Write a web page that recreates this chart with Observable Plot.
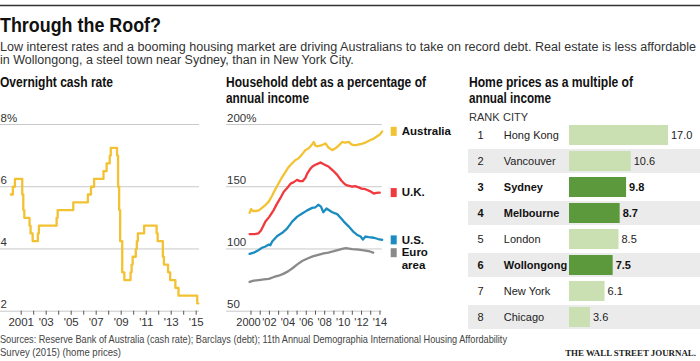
<!DOCTYPE html>
<html><head><meta charset="utf-8">
<script src="https://cdn.jsdelivr.net/npm/d3@7"></script>
<script src="https://cdn.jsdelivr.net/npm/@observablehq/plot@0.6"></script>
<style>
body{margin:0;background:#fff;}
#root{position:relative;width:700px;height:361px;overflow:hidden;}
#root > svg, #root > figure{position:absolute;margin:0;}
</style></head><body><div id="root"></div>
<script>
// ---------- DATA ----------
const cashDates = ["2000-03","2000-05","2000-07","2001-02","2001-03","2001-04","2001-09","2001-10","2001-12","2002-05","2002-06","2003-11","2003-12","2005-03","2006-05","2006-08","2006-11","2007-08","2007-11","2008-02","2008-03","2008-09","2008-10","2008-11","2008-12","2009-02","2009-04","2009-10","2009-11","2009-12","2010-03","2010-04","2010-05","2010-11","2011-11","2011-12","2012-05","2012-06","2012-10","2012-12","2013-05","2013-08","2015-02","2015-03"];
const cashRates = [5.75,6.0,6.25,5.75,5.25,5.0,4.75,4.5,4.25,4.5,4.75,5.0,5.25,5.5,5.75,6.0,6.25,6.5,6.75,7.0,7.25,7.0,6.0,5.25,4.25,3.25,3.0,3.25,3.5,3.75,4.0,4.25,4.5,4.75,4.5,4.25,3.75,3.5,3.25,3.0,2.75,2.5,2.25,2.25];
const cashTicks = [2, 4, 6, 8];
const cashYears = d3.range(2001, 2016);

const australia = [[1999.85,129],[2000.0,132],[2000.2,130.5],[2000.5,130.5],[2000.85,131],[2001.2,133],[2001.6,135.5],[2001.93,138],[2002.3,143],[2002.65,148],[2003.02,153],[2003.4,158],[2003.75,162],[2004.0,165],[2004.29,167.5],[2004.55,169.5],[2004.83,171.5],[2005.1,172.5],[2005.37,174.5],[2005.65,177],[2005.92,179.5],[2006.2,180.5],[2006.46,182.5],[2006.7,184.5],[2006.82,186],[2007.0,183],[2007.19,182.5],[2007.5,183],[2007.73,183.5],[2008.09,184.8],[2008.4,181.5],[2008.82,179.4],[2009.1,180.5],[2009.36,182],[2009.65,184],[2009.9,186],[2010.2,185.5],[2010.62,186],[2010.9,184],[2011.16,183.5],[2011.45,183.5],[2011.7,184],[2012.0,184.5],[2012.43,185.5],[2012.7,186.5],[2012.97,187.5],[2013.3,188.5],[2013.7,190.5],[2014.0,192],[2014.24,194.5]];
const uk = [[1999.85,112],[2000.4,112],[2000.8,112.5],[2001.1,115],[2001.57,122],[2002.0,126],[2002.48,131.5],[2002.8,136],[2003.2,141],[2003.56,146],[2003.93,149],[2004.3,152.5],[2004.6,153.5],[2005.0,155.5],[2005.3,154.5],[2005.6,154.5],[2005.9,157],[2006.1,160.5],[2006.4,164],[2006.7,166.5],[2007.1,168],[2007.55,169.5],[2007.9,168],[2008.45,166],[2008.9,163],[2009.36,159.5],[2009.8,155],[2010.2,152],[2010.44,151],[2010.99,150],[2011.3,150.5],[2011.7,149.5],[2012.0,148.5],[2012.43,148],[2012.9,146.5],[2013.33,144.5],[2013.6,145],[2013.98,145.3]];
const us = [[1999.85,96],[2000.3,97],[2000.7,98.5],[2001.2,101],[2001.57,102],[2001.93,103.5],[2002.1,103],[2002.3,106],[2002.85,110.5],[2003.4,113],[2003.93,116.5],[2004.47,122],[2005.02,126],[2005.56,128.5],[2006.1,131],[2006.64,133],[2007.0,133.5],[2007.3,135.5],[2007.6,134],[2007.85,129.5],[2008.2,132.5],[2008.82,129.5],[2009.36,128],[2009.8,124.5],[2010.08,122],[2010.62,118],[2011.16,113.5],[2011.5,111.5],[2011.9,110],[2012.15,107.5],[2012.43,110],[2012.8,109.5],[2013.33,109],[2013.8,108],[2014.24,107.3]];
const euro = [[1999.85,73.5],[2000.3,74.5],[2000.85,75],[2001.4,75.5],[2001.93,76],[2002.5,77.5],[2003.0,78.5],[2003.5,80],[2004.02,82],[2004.5,84.5],[2005.1,88],[2005.6,90.5],[2006.2,92.5],[2006.7,94],[2007.3,95.3],[2007.9,96.5],[2008.4,97.1],[2008.9,98],[2009.5,99.3],[2010.0,100.3],[2010.3,100.6],[2010.99,99.8],[2011.7,99.5],[2012.43,98.7],[2012.9,98],[2013.27,97]];
const debtSeries = ["Australia", "U.K.", "U.S.", "Euro area"];
const debtTicks = [50, 100, 150, 200];
const debtYears = d3.range(2000, 2015);

const ranks = [1, 2, 3, 4, 5, 6, 7, 8];
const cities = ["Hong Kong", "Vancouver", "Sydney", "Melbourne", "London", "Wollongong", "New York", "Chicago"];
const multiples = [17.0, 10.6, 9.8, 8.7, 8.5, 7.5, 6.1, 3.6];
const australianCities = ["Sydney", "Melbourne", "Wollongong"];

// ---------- STYLE ----------
const SANS = '"Liberation Sans", Arial, sans-serif';
const SERIF = '"Liberation Serif", "DejaVu Serif", serif';
const YELLOW = "#f2c232", RED = "#f0393f", BLUE = "#1a8cc0", GREY = "#8a8a8a";
const LIGHTGREEN = "#cadfb2", DARKGREEN = "#5c993c", BAND = "#ebebeb", GRID = "#c9c9c9";
const seriesColors = [YELLOW, RED, BLUE, GREY];

const root = d3.select("#root");
const svg = root.append("svg").attr("width", 700).attr("height", 361).style("left", "0px").style("top", "0px");
function txt(x, y, s, o = {}) {
  const t = svg.append("text").attr("x", x).attr("y", y).text(s)
    .attr("font-family", o.family || SANS).attr("font-size", o.size || 12)
    .attr("font-weight", o.weight || "normal").attr("fill", o.fill || "#222")
    .attr("text-anchor", o.anchor || "start");
  if (o.len) t.attr("textLength", o.len).attr("lengthAdjust", "spacingAndGlyphs");
}
const H = {size: 14, weight: "bold", fill: "#111"};
svg.append("line").attr("x1", 0).attr("x2", 700).attr("y1", 5.5).attr("y2", 5.5).attr("stroke", "#333").attr("stroke-width", 1.3);
txt(0, 32, "Through the Roof?", {size: 20.5, weight: "bold", fill: "#111", len: 161});
txt(0, 51, "Low interest rates and a booming housing market are driving Australians to take on record debt. Real estate is less affordable", {size: 12.5, fill: "#333", len: 696});
txt(0, 63.5, "in Wollongong, a steel town near Sydney, than in New York City.", {size: 12.5, fill: "#333"});
txt(0, 87, "Overnight cash rate", {...H, len: 113});
txt(226, 87, "Household debt as a percentage of", {...H, len: 200});
txt(226, 103, "annual income", {...H, len: 83});
txt(469, 87, "Home prices as a multiple of", {...H, len: 164});
txt(469, 103, "annual income", {...H, len: 82});
txt(469, 121, "RANK", {size: 11, fill: "#333"});
txt(503, 121, "CITY", {size: 11, fill: "#333"});
txt(0, 343, "Sources: Reserve Bank of Australia (cash rate); Barclays (debt); 11th Annual Demographia International Housing Affordability", {size: 10.5, fill: "#444", len: 507});
txt(0, 356, "Survey (2015) (home prices)", {size: 10.5, fill: "#444", len: 121});
txt(696, 356, "THE WALL STREET JOURNAL.", {family: SERIF, size: 8.9, weight: "bold", fill: "#222", anchor: "end"});

function place(node, left, top) {
  node.style.position = "absolute";
  node.style.left = left + "px";
  node.style.top = top + "px";
  root.node().appendChild(node);
}
const plotStyle = {fontFamily: SANS, fontSize: "11.5px", color: "#333", background: "transparent", overflow: "visible"};

// ---------- LEFT: cash rate ----------
const toYear = s => { const [y, m] = s.split("-").map(Number); return y + (m - 1) / 12; };
const cash = cashDates.map((d, i) => ({t: toYear(d), v: cashRates[i]}));
const left = Plot.plot({
  width: 215, height: 232, marginLeft: 0, marginRight: 16, marginTop: 24, marginBottom: 21.3,
  style: plotStyle,
  x: {domain: [1999.344, 2015.264]},
  y: {domain: [2, 8], axis: null},
  marks: [
    Plot.ruleY(cashTicks, {stroke: GRID, strokeWidth: 1}),
    Plot.text(cashTicks, {y: d => d, text: d => d === 8 ? "8%" : String(d), frameAnchor: "left", textAnchor: "start", lineAnchor: "bottom", dy: -3, fill: "#333"}),
    Plot.axisX({ticks: cashYears, tickSize: 4, tickPadding: 3, stroke: "#555",
      tickFormat: d => d % 2 === 1 ? (d === 2001 ? "2001" : "'" + String(d).slice(2)) : "", label: null}),
    Plot.line(cash, {x: "t", y: "v", curve: "step-after", stroke: YELLOW, strokeWidth: 2.3})
  ]
});
place(left, 0, 100);

// ---------- MIDDLE: household debt ----------
const debtData = [australia, uk, us, euro].flatMap((arr, i) => arr.map(([t, v]) => ({t, v, s: debtSeries[i]})));
const lastVals = [australia, uk, us, euro].map((arr, i) => ({s: debtSeries[i], v: arr[arr.length - 1][1], c: seriesColors[i]}));
const box = {draw(ctx) { ctx.rect(-3, -4.5, 6, 9); }};
const middle = Plot.plot({
  width: 240, height: 232, marginLeft: 6, marginRight: 78.3, marginTop: 24, marginBottom: 21.3,
  style: plotStyle,
  x: {domain: [1997.34, 2014.245]},
  y: {domain: [50, 200], axis: null},
  color: {domain: debtSeries, range: seriesColors},
  marks: [
    Plot.ruleY(debtTicks, {stroke: GRID, strokeWidth: 1}),
    Plot.text(debtTicks, {y: d => d, text: d => d === 200 ? "200%" : String(d), frameAnchor: "left", textAnchor: "start", lineAnchor: "bottom", dx: 0.5, dy: -3, fill: "#333"}),
    Plot.axisX({ticks: debtYears, tickSize: 4, tickPadding: 3, stroke: "#555", fontSize: 11,
      tickFormat: d => d % 2 === 0 && d !== 2000 ? "'" + String(d).slice(2) : "", label: null}),
    Plot.axisX({ticks: [2000], tickSize: 0, tickPadding: 7, fontSize: 11, dx: -2.5, tickFormat: () => "2000", label: null}),
    Plot.line(debtData, {x: "t", y: "v", z: "s", stroke: "s", strokeWidth: 2.3, curve: "linear"}),
    Plot.dot(lastVals, {y: "v", frameAnchor: "right", dx: 11.5, symbol: box, fill: "c", stroke: null, r: 4}),
    Plot.text(lastVals, {y: "v", frameAnchor: "right", dx: 19.5, text: d => d.s === "Euro area" ? "Euro" : d.s, textAnchor: "start",
      fontFamily: SANS, fontSize: 11.5, fontWeight: "bold", fill: "#111"}),
    Plot.text(lastVals.filter(d => d.s === "Euro area"), {y: "v", frameAnchor: "right", dx: 19.5, dy: 12.5, text: () => "area", textAnchor: "start",
      fontFamily: SANS, fontSize: 11.5, fontWeight: "bold", fill: "#111"})
  ]
});
place(middle, 220, 100);

// ---------- RIGHT: home prices ----------
const rows = cities.map((c, i) => ({rank: ranks[i], city: c, value: multiples[i], hi: australianCities.includes(c)}));
const xDom = [-17.343, 22.495];
const right = Plot.plot({
  width: 240, height: 240, marginLeft: 8, marginRight: 0, marginTop: 20, marginBottom: 6.7,
  style: {...plotStyle, fontSize: "11px"},
  x: {domain: xDom, axis: null},
  y: {domain: cities, paddingInner: 0.2125, paddingOuter: 0.10625, axis: null},
  marks: [
    Plot.barX(rows.filter((d, i) => i % 2 === 1), {y: "city", x1: () => xDom[0], x2: () => xDom[1], fill: BAND, insetTop: -2, insetBottom: -2}),
    Plot.barX(rows, {y: "city", x: "value", fill: d => d.hi ? DARKGREEN : LIGHTGREEN}),
    Plot.text(rows.filter(d => !d.hi), {y: "city", frameAnchor: "left", dx: 12, text: "rank", textAnchor: "middle", fill: "#222"}),
    Plot.text(rows.filter(d => d.hi), {y: "city", frameAnchor: "left", dx: 12, text: "rank", textAnchor: "middle", fill: "#111", fontWeight: "bold"}),
    Plot.text(rows.filter(d => !d.hi), {y: "city", frameAnchor: "left", dx: 35.3, text: "city", textAnchor: "start", fill: "#222"}),
    Plot.text(rows.filter(d => d.hi), {y: "city", frameAnchor: "left", dx: 35.3, text: "city", textAnchor: "start", fill: "#111", fontWeight: "bold"}),
    Plot.text(rows.filter(d => !d.hi), {y: "city", x: "value", dx: 2.5, text: d => d.value.toFixed(1), textAnchor: "start", fill: "#222"}),
    Plot.text(rows.filter(d => d.hi), {y: "city", x: "value", dx: 2.5, text: d => d.value.toFixed(1), textAnchor: "start", fill: "#111", fontWeight: "bold"})
  ]
});
place(right, 460, 100);
</script></body></html>
